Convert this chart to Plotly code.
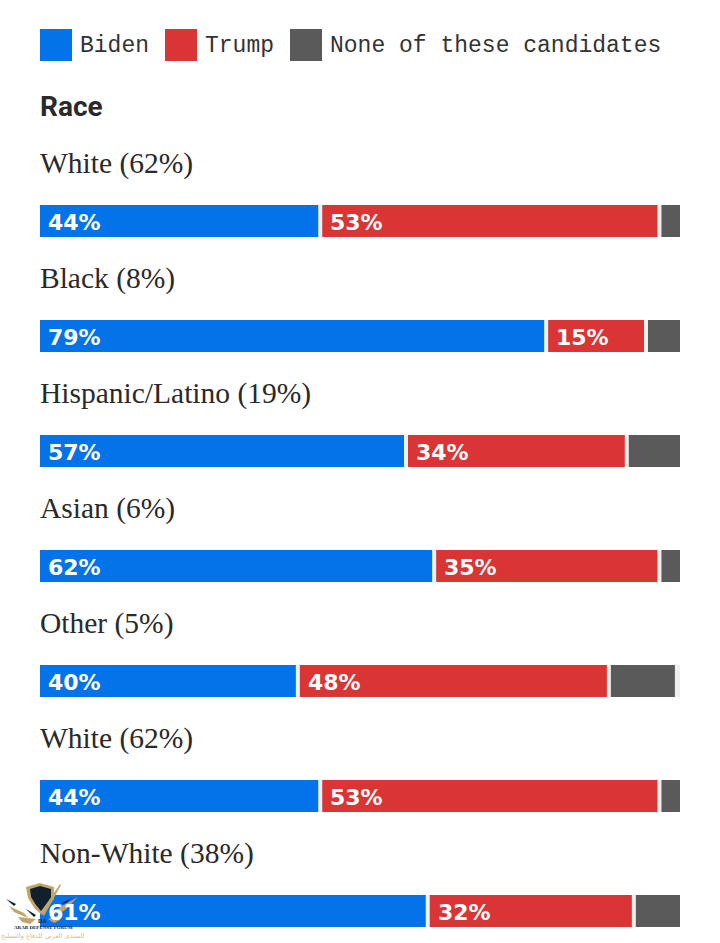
import plotly.graph_objects as go

# ---- data ----
groups = ["White (62%)", "Black (8%)", "Hispanic/Latino (19%)", "Asian (6%)",
          "Other (5%)", "White (62%)", "Non-White (38%)"]
biden = [44.1, 79.4, 57.5, 61.9, 40.6, 44.1, 60.9]
trump = [53.0, 15.6, 34.5, 35.2, 48.6, 53.0, 32.2]
none_of_these = [2.9, 5.0, 8.0, 2.9, 10.0, 2.9, 6.9]
biden_labels = ["44%", "79%", "57%", "62%", "40%", "44%", "61%"]
trump_labels = ["53%", "15%", "34%", "35%", "48%", "53%", "32%"]
legend_names = ["Biden", "Trump", "None of these candidates"]
section_title = "Race"
logo_en = "ARAB DEFENSE FORUM"
logo_ar = "المنتدى العربي للدفاع والتسليح"

BLUE, RED, GREY, TRACK, INK = "#0472e8", "#d93535", "#5a5a5a", "#f0f0f0", "#2a2a2a"
W, H = 720, 943
LEFT, RIGHT = 40, 680
ROW, CENTER0, BAR_H = 115, 221, 32
GAP = 4 * 100 / (RIGHT - LEFT)

rows = list(range(len(groups)))
fig = go.Figure()
bw = BAR_H / ROW
fig.add_bar(y=rows, x=[100] * len(rows), orientation="h", width=bw, marker_color=TRACK,
            marker_line_width=0, showlegend=False, hoverinfo="skip")
fig.add_bar(y=rows, x=[b - GAP for b in biden], base=[0] * len(rows), orientation="h", width=bw,
            marker_color=BLUE, marker_line_width=0, name=legend_names[0], showlegend=False)
fig.add_bar(y=rows, x=[t - GAP for t in trump], base=biden, orientation="h", width=bw,
            marker_color=RED, marker_line_width=0, name=legend_names[1], showlegend=False)
none_base = [b + t for b, t in zip(biden, trump)]
fig.add_bar(y=rows, x=none_of_these, base=none_base, orientation="h", width=bw,
            marker_color=GREY, marker_line_width=0, name=legend_names[2], showlegend=False)


def px(x):
    return x / W


def py(y):
    return 1 - y / H


ann = []
shapes = []
SERIF = "Liberation Serif, serif"
VALUE = "DejaVu Sans, sans-serif"
for i, g in enumerate(groups):
    ann.append(dict(text=g, xref="paper", x=px(LEFT), xshift=-2, xanchor="left", yref="y", y=i, yshift=58,
                    yanchor="middle", showarrow=False,
                    font=dict(family=SERIF, size=29.5, color=INK)))
    ann.append(dict(text=f"<b>{biden_labels[i]}</b>", xref="x", x=0, xshift=6, xanchor="left",
                    yref="y", y=i, yshift=-1.5, yanchor="middle", showarrow=False,
                    font=dict(family=VALUE, size=22, color="white")))
    ann.append(dict(text=f"<b>{trump_labels[i]}</b>", xref="x", x=biden[i], xshift=6, xanchor="left",
                    yref="y", y=i, yshift=-1.5, yanchor="middle", showarrow=False,
                    font=dict(family=VALUE, size=22, color="white")))

# legend
for name, col, sx, tx in zip(legend_names, [BLUE, RED, GREY], [40, 165, 290], [78, 203, 328]):
    shapes.append(dict(type="rect", xref="paper", yref="paper", x0=px(sx), x1=px(sx + 32),
                       y0=py(61), y1=py(29), fillcolor=col, line_width=0))
    ann.append(dict(text=name, xref="paper", yref="paper", x=px(tx), y=py(45.5), xanchor="left",
                    yanchor="middle", showarrow=False,
                    font=dict(family="Liberation Mono, monospace", size=23, color="#333333")))
ann.append(dict(text=f"<b>{section_title}</b>", xref="paper", yref="paper", x=px(38), y=py(107),
                xanchor="left", yanchor="middle", showarrow=False,
                font=dict(family="Roboto, Liberation Sans, sans-serif", size=28, color=INK)))


# watermark logo (decorative, drawn in pixel space)
def path(points, fill):
    d = "M " + " L ".join(f"{px(a):.5f},{py(b):.5f}" for a, b in points) + " Z"
    shapes.append(dict(type="path", path=d, xref="paper", yref="paper", fillcolor=fill,
                       line_width=0, layer="above"))


GOLD, DARK = "#c4a468", "#10202c"
path([(26, 887), (40, 883), (54, 887), (54, 899), (42, 915), (35, 909), (28, 898)], GOLD)
path([(30, 889), (40, 886), (51, 889), (51, 898), (41, 911), (36, 905), (31, 897)], DARK)
path([(41, 912), (60, 884), (61, 885), (44, 916)], GOLD)
path([(6, 899), (16, 904), (14, 906)], DARK)
path([(9, 906), (24, 913), (28, 918), (14, 912)], GOLD)
path([(18, 917), (36, 919), (30, 924), (22, 922)], GOLD)
path([(26, 909), (36, 915), (34, 917)], DARK)
path([(78, 897), (62, 906), (50, 915), (64, 911)], GOLD)
path([(72, 898), (60, 904), (66, 903)], DARK)
path([(62, 914), (48, 919), (54, 923), (60, 920)], GOLD)
ann.append(dict(text=f"<b>{logo_en}</b>", xref="paper", yref="paper", x=px(43), y=py(927), xanchor="center",
                yanchor="middle", showarrow=False, font=dict(family=SERIF, size=5, color="#222222")))
ann.append(dict(text="<b>DA</b>", xref="paper", yref="paper", x=px(42), y=py(921), xanchor="center",
                yanchor="middle", showarrow=False, font=dict(family=SERIF, size=6, color="#10202c")))
ann.append(dict(text=logo_ar, xref="paper", yref="paper", x=px(43), y=py(936), xanchor="center",
                yanchor="middle", showarrow=False, font=dict(family="DejaVu Sans", size=6.5, color="#d8bd8a")))

fig.update_layout(
    width=W, height=H, margin=dict(l=0, r=0, t=0, b=0), autosize=False,
    barmode="overlay", paper_bgcolor="white", plot_bgcolor="white",
    showlegend=False, annotations=ann, shapes=shapes,
    xaxis=dict(range=[-LEFT * 100 / (RIGHT - LEFT), (W - LEFT) * 100 / (RIGHT - LEFT)], visible=False, fixedrange=True),
    yaxis=dict(range=[(H - CENTER0) / ROW, -CENTER0 / ROW], visible=False, fixedrange=True),
)
fig.write_html("out.html", config={"displayModeBar": False},
               post_script="document.body.style.margin='0';document.body.style.overflow='hidden';")
